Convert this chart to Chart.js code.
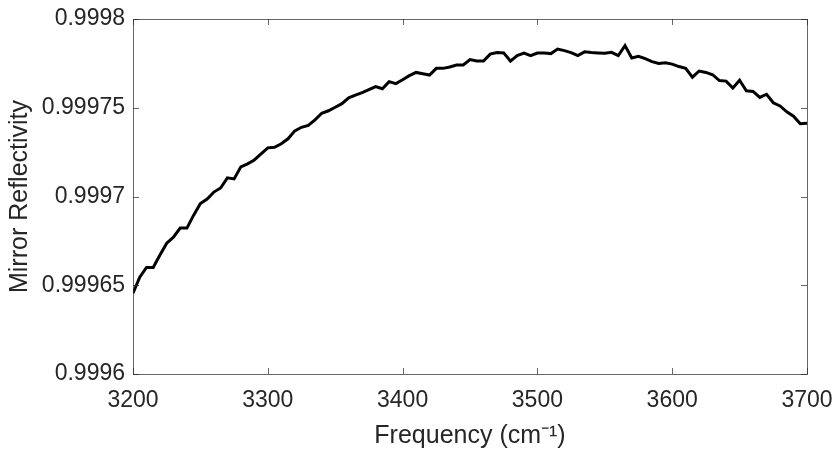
<!DOCTYPE html>
<html>
<head>
<meta charset="utf-8">
<script src="https://cdn.jsdelivr.net/npm/chart.js@4.4.1/dist/chart.umd.min.js"></script>
<style>
  html, body { margin: 0; padding: 0; background: #fff; }
  #wrap { width: 836px; height: 453px; }
</style>
</head>
<body>
<div id="wrap"><canvas id="canvas" width="836" height="453"></canvas></div>
<script>
// Frequency (cm^-1)
var frequency = [
    3200, 3205, 3210, 3215, 3220, 3225, 3230, 3235, 3240, 3245,
    3250, 3255, 3260, 3265, 3270, 3275, 3280, 3285, 3290, 3295,
    3300, 3305, 3310, 3315, 3320, 3325, 3330, 3335, 3340, 3345,
    3350, 3355, 3360, 3365, 3370, 3375, 3380, 3385, 3390, 3395,
    3400, 3405, 3410, 3415, 3420, 3425, 3430, 3435, 3440, 3445,
    3450, 3455, 3460, 3465, 3470, 3475, 3480, 3485, 3490, 3495,
    3500, 3505, 3510, 3515, 3520, 3525, 3530, 3535, 3540, 3545,
    3550, 3555, 3560, 3565, 3570, 3575, 3580, 3585, 3590, 3595,
    3600, 3605, 3610, 3615, 3620, 3625, 3630, 3635, 3640, 3645,
    3650, 3655, 3660, 3665, 3670, 3675, 3680, 3685, 3690, 3695,
    3700
];

// Mirror reflectivity
var reflectivity = [
    0.9996455, 0.9996545, 0.9996600, 0.9996600, 0.9996670, 0.9996737, 0.9996771, 0.9996822, 0.9996822, 0.9996895,
    0.9996960, 0.9996986, 0.9997025, 0.9997048, 0.9997105, 0.9997099, 0.9997167, 0.9997184, 0.9997206, 0.9997240,
    0.9997274, 0.9997277, 0.9997297, 0.9997325, 0.9997370, 0.9997390, 0.9997401, 0.9997432, 0.9997469, 0.9997483,
    0.9997503, 0.9997523, 0.9997556, 0.9997571, 0.9997585, 0.9997602, 0.9997619, 0.9997607, 0.9997647, 0.9997636,
    0.9997658, 0.9997681, 0.9997699, 0.9997692, 0.9997684, 0.9997722, 0.9997722, 0.9997730, 0.9997741, 0.9997741,
    0.9997771, 0.9997763, 0.9997763, 0.9997802, 0.9997811, 0.9997809, 0.9997763, 0.9997794, 0.9997808, 0.9997794,
    0.9997808, 0.9997809, 0.9997805, 0.9997831, 0.9997822, 0.9997811, 0.9997794, 0.9997815, 0.9997811, 0.9997809,
    0.9997807, 0.9997812, 0.9997794, 0.9997850, 0.9997780, 0.9997790, 0.9997777, 0.9997760, 0.9997749, 0.9997754,
    0.9997746, 0.9997732, 0.9997722, 0.9997672, 0.9997707, 0.9997699, 0.9997686, 0.9997653, 0.9997650, 0.9997611,
    0.9997655, 0.9997596, 0.9997592, 0.9997558, 0.9997576, 0.9997528, 0.9997510, 0.9997477, 0.9997452, 0.9997410,
    0.9997412
];

var xTicks = [3200, 3300, 3400, 3500, 3600, 3700];
var yTicks = [0.9996, 0.99965, 0.9997, 0.99975, 0.9998];

var axisColor = '#262626';
var fontFamily = '"Liberation Sans", Arial, Helvetica, sans-serif';

// MATLAB style box with inward ticks on all four sides
var boxPlugin = {
    id: 'box',
    afterDraw: function(chart) {
        var a = chart.chartArea;
        var ctx = chart.ctx;
        var xs = chart.scales.x;
        var ys = chart.scales.y;
        var len = 6;
        ctx.save();
        ctx.strokeStyle = 'rgba(38,38,38,0.7)';
        ctx.lineWidth = 1;
        ctx.strokeRect(Math.round(a.left) + 0.5, Math.round(a.top) + 0.5,
            Math.round(a.right) - Math.round(a.left), Math.round(a.bottom) - Math.round(a.top));
        ctx.beginPath();
        xTicks.forEach(function(v) {
            var px = Math.round(xs.getPixelForValue(v)) + 0.5;
            ctx.moveTo(px, a.bottom);
            ctx.lineTo(px, a.bottom - len);
            ctx.moveTo(px, a.top);
            ctx.lineTo(px, a.top + len);
        });
        yTicks.forEach(function(v) {
            var py = Math.round(ys.getPixelForValue(v)) + 0.5;
            ctx.moveTo(a.left, py);
            ctx.lineTo(a.left + len, py);
            ctx.moveTo(a.right, py);
            ctx.lineTo(a.right - len, py);
        });
        ctx.stroke();
        ctx.restore();
    }
};

function renderChart() {
    var points = frequency.map(function(f, i) {
        return { x: f, y: reflectivity[i] };
    });

    var ctx = document.getElementById('canvas').getContext('2d');
    new Chart(ctx, {
        type: 'line',
        data: {
            datasets: [{
                data: points,
                borderColor: '#000000',
                borderWidth: 3,
                pointRadius: 0,
                tension: 0,
                fill: false
            }]
        },
        options: {
            responsive: false,
            animation: false,
            devicePixelRatio: 1,
            layout: {
                padding: { left: 0, right: 29, top: 19, bottom: 0 }
            },
            plugins: {
                legend: { display: false },
                tooltip: { enabled: false }
            },
            scales: {
                x: {
                    type: 'linear',
                    min: 3200,
                    max: 3700,
                    afterBuildTicks: function(scale) {
                        scale.ticks = xTicks.map(function(v) { return { value: v }; });
                    },
                    afterFit: function(scale) {
                        scale.height = 79;
                        scale.paddingLeft = 0;
                        scale.paddingRight = 0;
                    },
                    grid: { display: false, drawTicks: false },
                    border: { display: false },
                    ticks: {
                        color: axisColor,
                        padding: 13,
                        autoSkip: false,
                        maxRotation: 0,
                        font: { family: fontFamily, size: 23 },
                        callback: function(v) { return String(v); }
                    },
                    title: {
                        display: true,
                        text: 'Frequency (cm\u207B\u00B9)',
                        color: axisColor,
                        padding: { top: 0, bottom: 2 },
                        font: { family: fontFamily, size: 25 }
                    }
                },
                y: {
                    type: 'linear',
                    min: 0.9996,
                    max: 0.9998,
                    afterBuildTicks: function(scale) {
                        scale.ticks = yTicks.map(function(v) { return { value: v }; });
                    },
                    afterFit: function(scale) {
                        scale.width = 133;
                        scale.paddingTop = 0;
                        scale.paddingBottom = 0;
                    },
                    grid: { display: false, drawTicks: false },
                    border: { display: false },
                    ticks: {
                        color: axisColor,
                        padding: 8,
                        autoSkip: false,
                        font: { family: fontFamily, size: 23 },
                        callback: function(v) { return String(Number(v.toFixed(5))); }
                    },
                    title: {
                        display: true,
                        text: 'Mirror Reflectivity',
                        color: axisColor,
                        padding: { top: 5, bottom: 0 },
                        font: { family: fontFamily, size: 25 }
                    }
                }
            }
        },
        plugins: [boxPlugin]
    });
}

if (document.readyState !== 'loading') {
    renderChart();
} else {
    document.addEventListener('DOMContentLoaded', renderChart);
}
</script>
</body>
</html>
